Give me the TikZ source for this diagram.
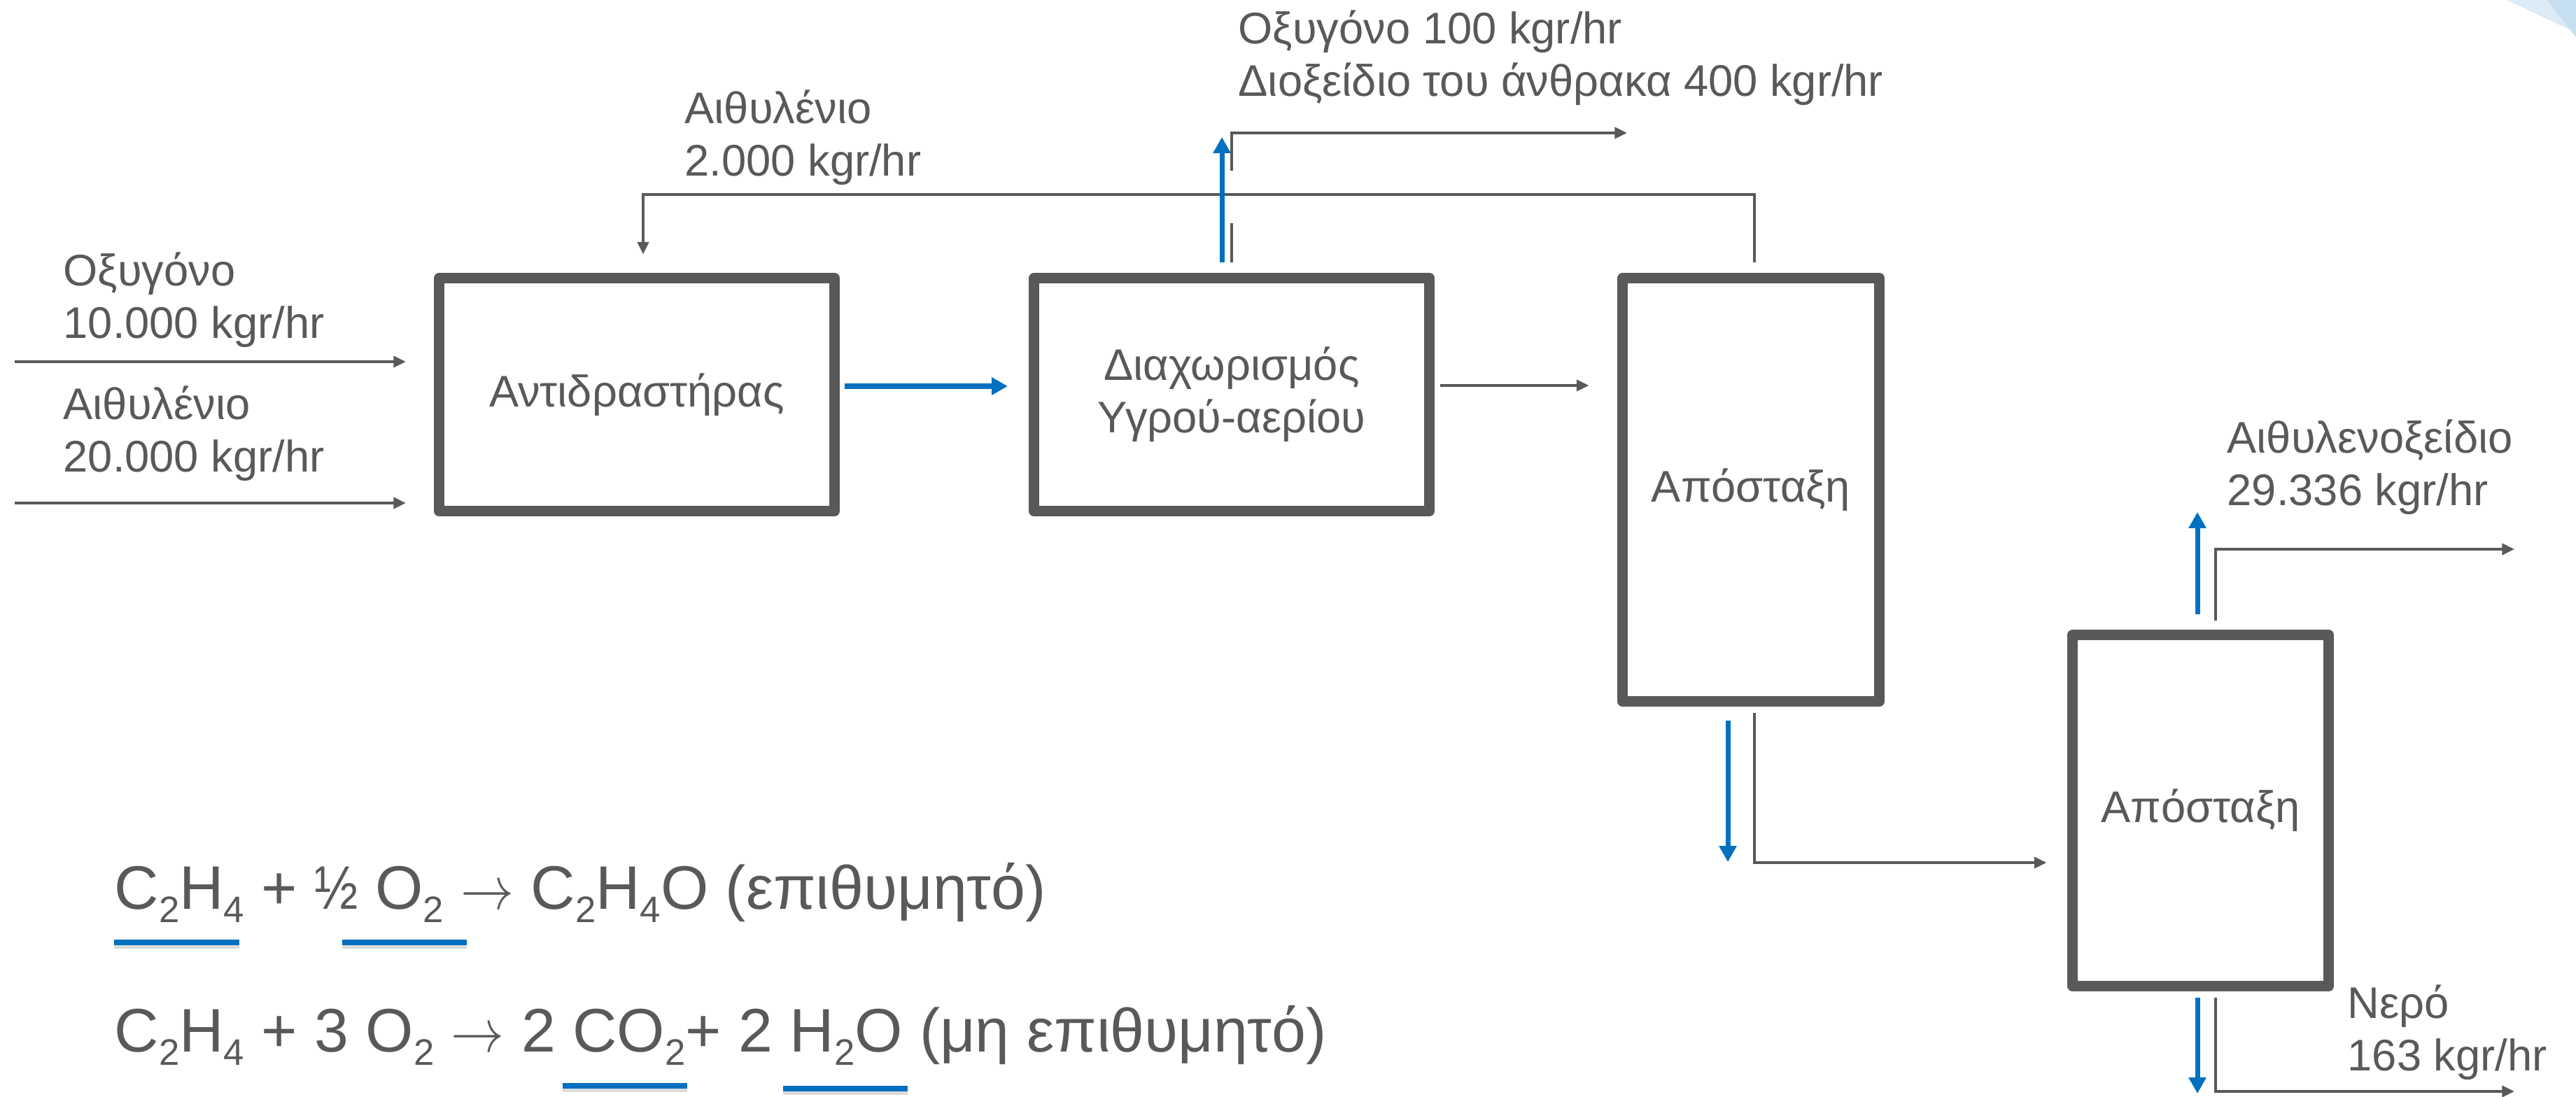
\documentclass[tikz,border=0pt]{standalone}
\usepackage{fontspec}
\setmainfont{Liberation Sans}
\usetikzlibrary{positioning,arrows.meta,calc}
\definecolor{ink}{HTML}{595959}
\definecolor{hot}{HTML}{0070C0}
\definecolor{paleA}{HTML}{DDEBF7}
\definecolor{paleB}{HTML}{C5DFF1}
\newcommand{\lblfont}{\fontsize{18pt}{21.3pt}\selectfont}
\newcommand{\eqfont}{\fontsize{25pt}{30pt}\selectfont}
\newcommand{\chemsub}[1]{\raisebox{-0.22em}{\fontsize{15pt}{15pt}\selectfont #1}}
\newcommand{\yields}{\scalebox{0.87}[1]{$\rightarrow$}}
\newcommand{\halfof}{\scalebox{0.85}[1]{½}}

\begin{document}
\begin{tikzpicture}[
  unit/.style={draw=ink, line width=4.25pt, line join=round, fill=white, font=\lblfont, text=ink, align=center},
  lbl/.style={font=\lblfont, text=ink, align=left, inner sep=0pt, anchor=base west},
  eqn/.style={font=\eqfont, text=ink, inner sep=0pt, anchor=base west},
  pipe/.style={draw=ink, line width=1.2pt},
  flow/.style={pipe, -{Triangle[length=5pt, width=4.5pt]}},
  hotflow/.style={draw=hot, line width=2pt, -{Triangle[length=6.5pt, width=6.8pt]}},
  underbar/.style={draw=hot, line width=0.08cm},
  barshade/.style={draw=black!14, line width=0.07cm}]
\useasboundingbox (0,0) rectangle (36.81,-15.67);
\fill[white] (0,0) rectangle (36.81,-15.67);
% corner decoration
\fill[paleA] (35.82,0) -- (36.73,-0.43) -- (36.81,-0.53) -- (36.81,0) -- cycle;
\fill[paleB] (36.39,0) -- (36.81,-0.53) -- (36.81,0) -- cycle;
% units
\node[unit, minimum width=5.65cm, minimum height=3.33cm] (reactor) at (9.10,-5.64) {Αντιδραστήρας};
\node[unit, minimum width=5.65cm, minimum height=3.33cm] (separator) at (17.60,-5.64) {Διαχωρισμός\\Υγρού-αερίου};
\node[unit, minimum width=3.67cm, minimum height=6.05cm] (distA) at (25.02,-7.00) {Απόσταξη};
\node[unit, minimum width=3.66cm, minimum height=5.02cm] (distB) at (31.445,-11.585) {Απόσταξη};
% stream labels (base = last line)
\node[lbl] (oxlbl) at (0.90,-4.83) {Οξυγόνο\\10.000 kgr/hr};
\node[lbl] (etlbl) at (0.90,-6.74) {Αιθυλένιο\\20.000 kgr/hr};
\node[lbl] (recyclbl) at (9.78,-2.51) {Αιθυλένιο\\2.000 kgr/hr};
\node[lbl] (gaslbl) at (17.69,-1.37) {Οξυγόνο 100 kgr/hr\\Διοξείδιο του άνθρακα 400 kgr/hr};
\node[lbl] (eolbl) at (31.82,-7.22) {Αιθυλενοξείδιο\\29.336 kgr/hr};
\node[lbl] (waterlbl) at (33.54,-15.30) {Νερό\\163 kgr/hr};
% free ends
\coordinate (oxin) at (0.21,-5.17);
\coordinate (etin) at (0.21,-7.19);
\coordinate (recyc) at (9.19,-2.78);
\coordinate (gasup) at (17.60,-2.44);
\coordinate (gasout) at (23.25,-1.90);
\coordinate (gastip) at (17.46,-1.96);
\coordinate (botA) at (24.69,-12.32);
\coordinate (toptip) at (31.40,-7.32);
\coordinate (eoout) at (35.93,-7.85);
\coordinate (bottip) at (31.40,-15.63);
\coordinate (wout) at (35.93,-15.60);
% feeds
\draw[flow, shorten >=0.4cm] (oxin) -- (oxin -| reactor.west);
\draw[flow, shorten >=0.4cm] (etin) -- (etin -| reactor.west);
% reactor -> separator -> column
\draw[hotflow, shorten <=0.075cm, shorten >=0.3cm] ([yshift=0.12cm]reactor.east) -- ([yshift=0.12cm]separator.west);
\draw[flow, shorten <=0.075cm, shorten >=0.405cm] ([yshift=0.13cm]separator.east) -- ([yshift=0.13cm]separator.east -| distA.west);
% recycle back to the reactor
\draw[flow, shorten <=0.155cm, shorten >=0.265cm] ([xshift=0.05cm]distA.north) |- (recyc) -- (recyc |- reactor.north);
% gas off the separator
\draw[pipe, shorten <=0.155cm] (separator.north) -- ++(0,0.715);
\draw[flow] (gasup) |- (gasout);
\draw[hotflow, shorten <=0.155cm] (gastip |- separator.north) -- (gastip);
% first column bottoms
\draw[hotflow, shorten <=0.205cm] (botA |- distA.south) -- (botA);
\draw[flow, shorten <=0.095cm, shorten >=0.295cm] ([xshift=0.05cm]distA.south) |- ([yshift=-0.745cm]distB.west);
% second column
\draw[hotflow, shorten <=0.225cm] (toptip |- distB.north) -- (toptip);
\draw[flow, shorten <=0.135cm] ([xshift=0.215cm]distB.north) |- (eoout);
\draw[hotflow, shorten <=0.095cm] (bottip |- distB.south) -- (bottip);
\draw[flow, shorten <=0.095cm] ([xshift=0.215cm]distB.south) |- (wout);
% reactions
\node[eqn] (eqmain) at (1.63,-12.99) {C\chemsub{2}H\chemsub{4} + \halfof{} O\chemsub{2} \yields{} C\chemsub{2}H\chemsub{4}O (επιθυμητό)};
\node[eqn] (eqside) at (1.63,-15.03) {C\chemsub{2}H\chemsub{4} + 3 O\chemsub{2} \yields{} 2 CO\chemsub{2}+ 2 H\chemsub{2}O (μη επιθυμητό)};
\foreach \xa/\xb/\yb in {1.63/3.42/-13.47, 4.89/6.67/-13.47, 8.04/9.82/-15.52, 11.19/12.97/-15.56} {
  \draw[barshade] (\xa,\yb-0.05) -- (\xb,\yb-0.05);
  \draw[underbar] (\xa,\yb) -- (\xb,\yb);
}
\end{tikzpicture}
\end{document}
